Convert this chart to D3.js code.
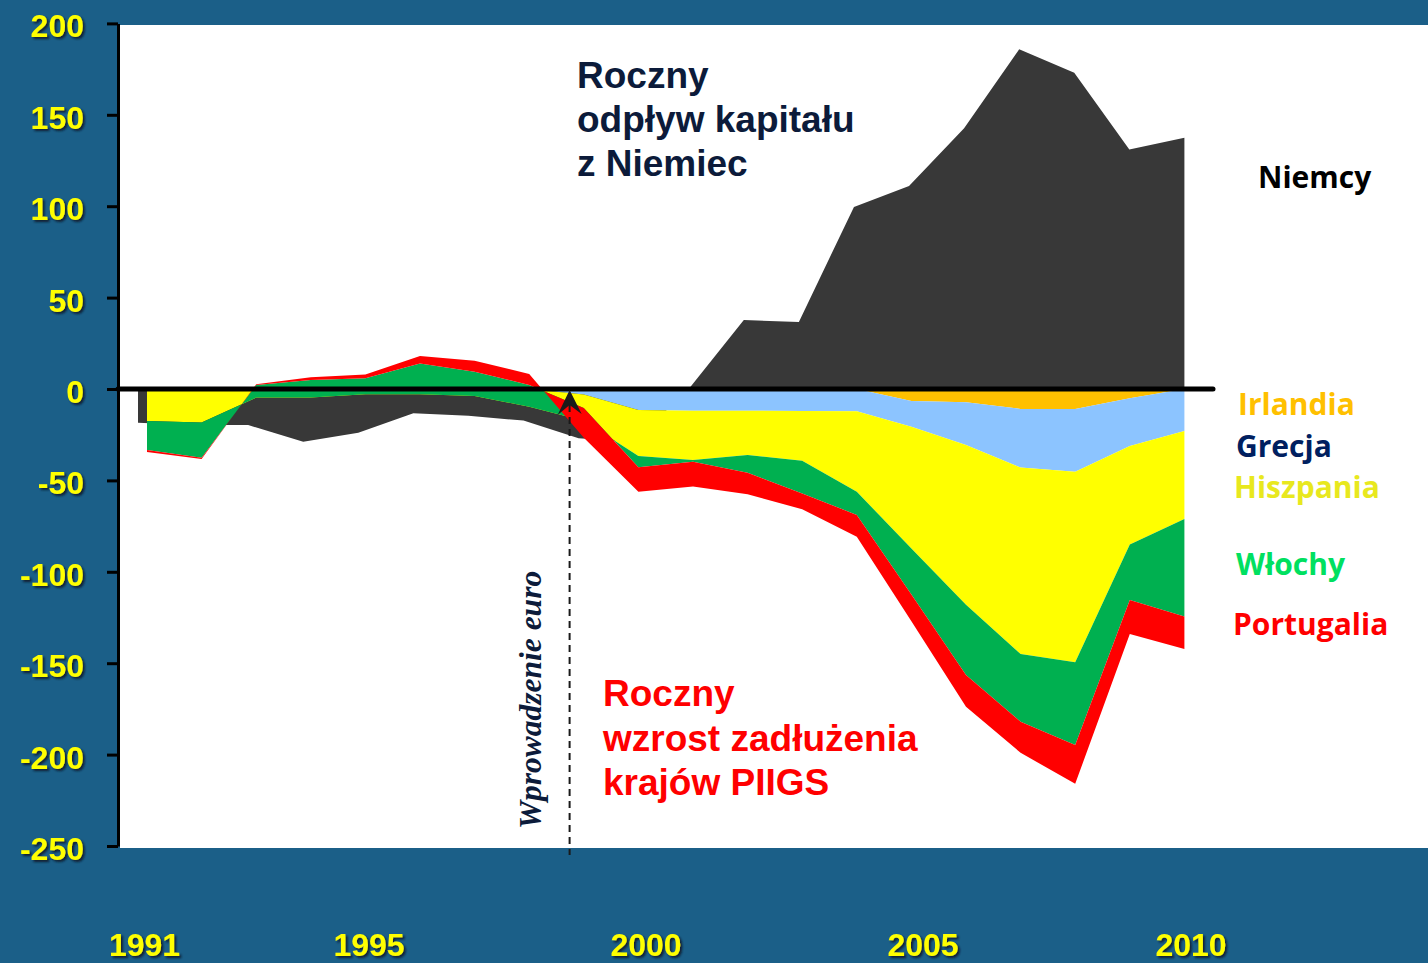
<!DOCTYPE html>
<html><head><meta charset="utf-8">
<script src="https://cdn.jsdelivr.net/npm/d3@7"></script>
<style>
html,body{margin:0;padding:0;background:#1b5f88;}
svg{display:block}
</style></head><body>
<svg id="chart" width="1428" height="963"></svg>
<script>
// ---- data ----
const years = [1991,1992,1993,1994,1995,1996,1997,1998,1999,2000,2001,2002,2003,2004,2005,2006,2007,2008,2009,2010];
const niemcy     = [-18.4,-19.7,-19.7,-28.8,-24.0,-13.3,-14.6,-17.3,-27.0,-29.0,0,37.7,36.7,99.6,111.0,142.6,185.8,173.0,131.0,137.5];
const irlandia   = [0,0,0,0,0,0,0,0,0,0,-0.5,-0.5,-0.5,0,-6.6,-7.3,-10.9,-10.9,-5.1,0];
const grecja     = [0,0,0,0,0,0,0,0,-3,-11.5,-11.4,-11.4,-11.5,-12.2,-14.0,-23.3,-32.1,-34.3,-26.1,-23.0];
const hiszpania  = [-17.5,-18.3,-4.7,-4.7,-2.9,-2.9,-3.8,-9.7,-14.4,-25.2,-26.9,-24.2,-27.2,-44.0,-66.7,-87.4,-102.0,-104.3,-53.8,-48.1];
const wlochy     = [-15.9,-19.3,6.9,9.6,8.8,16.9,13.3,11.9,7.0,-6.1,-1.0,-9.7,-17.9,-12.7,-25.1,-38.5,-37.0,-45.2,-30.4,-53.4];
const portugalia = [-1.0,-0.7,0.4,1.5,2.1,4.0,6.0,6.0,-16.3,-13.4,-13.6,-11.8,-8.7,-11.9,-14.6,-17.3,-17.0,-21.3,-18.6,-17.7];
const seriesNames  = ["Irlandia","Grecja","Hiszpania","Włochy","Portugalia"];
const seriesColors = ["#ffc000","#8cc4ff","#ffff00","#00b050","#ff0000"];
const labelColors  = ["#ffc000","#002060","#e8e81e","#00e060","#ff0000"];
const yTicks = [-250,-200,-150,-100,-50,0,50,100,150,200];
const xTicks = [1991,1995,2000,2005,2010];
const euroYear = 1998.74;

// ---- setup ----
const W = 1428, H = 963;
const svg = d3.select("#chart");
const x  = d3.scaleLinear().domain([1991,2010]).range([147,1184.4]);
const xG = d3.scaleLinear().domain([1991,2010]).range([138,1184.4]);
const xLab = d3.scaleLinear().domain([1991,1995,2000,2005,2010]).range([144,368.5,645.5,922.5,1190.5]);
const y  = d3.scaleLinear().domain([-250,200]).range([846,23.4]);

const defs = svg.append("defs");
const f = defs.append("filter").attr("id","shadow").attr("x","-20%").attr("y","-20%").attr("width","140%").attr("height","140%");
f.append("feDropShadow").attr("dx",2).attr("dy",2).attr("stdDeviation",0.8).attr("flood-color","#08182a").attr("flood-opacity",0.9);

svg.append("rect").attr("width",W).attr("height",H).attr("fill","#1b5f88");
svg.append("rect").attr("x",120).attr("y",25).attr("width",W-120).attr("height",823).attr("fill","#ffffff");

// Germany area (behind)
const areaG = d3.area().x((d,i)=>xG(years[i])).y0(y(0)).y1(d=>y(d));
svg.append("path").datum(niemcy).attr("d",areaG).attr("fill","#383838");

// PIIGS cumulative stacked (Excel-like)
const seriesVals = [irlandia,grecja,hiszpania,wlochy,portugalia];
let prev = years.map(()=>0);
seriesVals.forEach((vals,k)=>{
  const cur = prev.map((p,i)=>p+vals[i]);
  const pts = years.map((yr,i)=>({yr, a:prev[i], b:cur[i]}));
  const ar = d3.area().x(d=>x(d.yr)).y0(d=>y(d.a)).y1(d=>y(d.b));
  svg.append("path").datum(pts).attr("d",ar).attr("fill",seriesColors[k]);
  prev = cur;
});

// zero line
svg.append("line").attr("x1",118).attr("x2",1213).attr("y1",y(0)).attr("y2",y(0))
  .attr("stroke","#000").attr("stroke-width",5).attr("stroke-linecap","round");

// y axis
const gy = svg.append("g").attr("transform","translate(118,0)")
  .call(d3.axisLeft(y).tickValues(yTicks).tickFormat(d=>String(d)).tickSize(11).tickSizeOuter(0).tickPadding(23))
  .attr("font-family","'Liberation Sans', Arial, sans-serif").attr("font-size",32).attr("font-weight","bold");
gy.select(".domain").attr("stroke","#000").attr("stroke-width",3);
gy.selectAll(".tick line").attr("stroke","#000").attr("stroke-width",3);
gy.selectAll(".tick text").attr("fill","#ffff00").attr("dy","0.42em").attr("filter","url(#shadow)");

// x axis
const gx = svg.append("g").attr("transform","translate(0,933)")
  .call(d3.axisBottom(xLab).tickValues(xTicks).tickFormat(d3.format("d")).tickSize(0).tickPadding(0))
  .attr("font-family","'Liberation Sans', Arial, sans-serif").attr("font-size",32).attr("font-weight","bold");
gx.select(".domain").remove();
gx.selectAll(".tick text").attr("fill","#ffff00").attr("filter","url(#shadow)");

// euro introduction marker
const ex = x(euroYear), y0 = y(0);
svg.append("line").attr("x1",ex).attr("x2",ex).attr("y1",y0+16).attr("y2",855)
  .attr("stroke","#1a1a1a").attr("stroke-width",2).attr("stroke-dasharray","7,5");
svg.append("path").attr("d",`M${ex},${y0+1} L${ex-12},${y0+26} L${ex},${y0+16} L${ex+12},${y0+25} Z`).attr("fill","#1a1a1a");
svg.append("text").attr("transform",`translate(541,829) rotate(-90)`)
  .attr("font-family","'Liberation Serif', 'Times New Roman', serif").attr("font-style","italic").attr("font-weight","bold")
  .attr("font-size",31.5).attr("fill","#0c1b3a").text("Wprowadzenie euro");

// annotations
function multi(lines, x0, ys, color, size){
  const t = svg.append("text").attr("font-family","'Liberation Sans', Arial, sans-serif").attr("font-weight","bold")
    .attr("font-size",size).attr("fill",color);
  lines.forEach((l,i)=>t.append("tspan").attr("x",x0).attr("y",ys[i]).text(l));
}
multi(["Roczny","odpływ kapitału","z Niemiec"], 577, [88,132,176], "#0c1b3a", 37);
multi(["Roczny","wzrost zadłużenia","krajów PIIGS"], 603, [706,750.5,795], "#ff0000", 37);

// series labels
const lab = svg.append("g").attr("font-family","'Open Sans', sans-serif").attr("font-weight","bold").attr("font-size",30);
lab.append("text").attr("x",1258).attr("y",188).attr("fill","#000").text("Niemcy");
const labPos = [[1238,415],[1236,456.5],[1234,497.5],[1236,575],[1233,635]];
seriesNames.forEach((n,i)=>{
  lab.append("text").attr("x",labPos[i][0]).attr("y",labPos[i][1]).attr("fill",labelColors[i]).text(n);
});
</script>
</body></html>
